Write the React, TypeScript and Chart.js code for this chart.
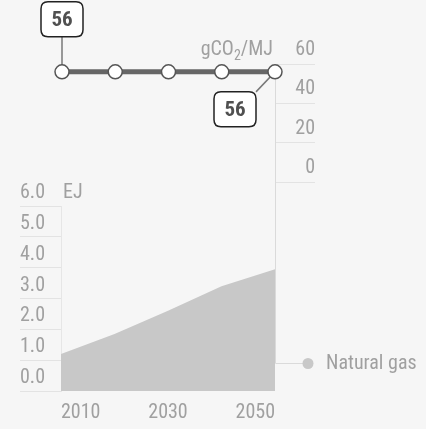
import React, { useEffect, useRef } from "react";
import { Chart, registerables } from "chart.js";

Chart.register(...registerables);

const years = ["2010", "2020", "2030", "2040", "2050"];
const shownYears = ["2010", "2030", "2050"];
const co2Intensity = [56, 56, 56, 56, 56];
const naturalGas = [1.2, 1.85, 2.6, 3.4, 3.95];
const co2Unit = ["gCO", "2", "/MJ"];
const energyUnit = "EJ";
const seriesName = "Natural gas";

const FONT = "'Liberation Sans Narrow', 'Roboto Condensed', Roboto, sans-serif";
const TEXT = "#a0a0a0";
const GRID = "#e3e3e3";
const AXIS = "#dadada";
const AREA = "#c8c8c8";

function roundRect(ctx: CanvasRenderingContext2D, x: number, y: number, w: number, h: number, r: number) {
  ctx.beginPath();
  ctx.moveTo(x + r, y);
  ctx.lineTo(x + w - r, y);
  ctx.quadraticCurveTo(x + w, y, x + w, y + r);
  ctx.lineTo(x + w, y + h - r);
  ctx.quadraticCurveTo(x + w, y + h, x + w - r, y + h);
  ctx.lineTo(x + r, y + h);
  ctx.quadraticCurveTo(x, y + h, x, y + h - r);
  ctx.lineTo(x, y + r);
  ctx.quadraticCurveTo(x, y, x + r, y);
  ctx.closePath();
}

export default function App() {
  const topRef = useRef<HTMLCanvasElement>(null);
  const botRef = useRef<HTMLCanvasElement>(null);

  useEffect(() => {
    document.body.style.margin = "0";
    document.body.style.background = "#f6f6f6";

    const BW = 42, BH = 35;
    const topPlugin = {
      id: "topDecor",
      beforeDatasetsDraw(chart: any) {
        const meta = chart.getDatasetMeta(0);
        const p0 = meta.data[0];
        const pn = meta.data[meta.data.length - 1];
        const ctx = chart.ctx;
        ctx.save();
        ctx.strokeStyle = "#7a7a7a";
        ctx.lineWidth = 1.5;
        ctx.beginPath();
        ctx.moveTo(p0.x, p0.y - 35);
        ctx.lineTo(p0.x, p0.y);
        ctx.moveTo(pn.x - 19, pn.y + 20);
        ctx.lineTo(pn.x, pn.y);
        ctx.stroke();
        ctx.restore();
      },
      afterDatasetsDraw(chart: any) {
        const ctx = chart.ctx;
        const meta = chart.getDatasetMeta(0);
        const p0 = meta.data[0];
        const pn = meta.data[meta.data.length - 1];
        const ds = chart.data.datasets[0].data;
        const boxes = [
          { x: p0.x - BW / 2, y: p0.y - 35 - BH, v: ds[0] },
          { x: pn.x - 19 - BW, y: pn.y + 20, v: ds[ds.length - 1] },
        ];
        ctx.save();
        for (const b of boxes) {
          roundRect(ctx, b.x, b.y, BW, BH, 7);
          ctx.fillStyle = "#ffffff";
          ctx.fill();
          ctx.strokeStyle = "#222222";
          ctx.lineWidth = 1.5;
          ctx.stroke();
          ctx.fillStyle = "#505050";
          ctx.font = `bold 21px ${FONT}`;
          ctx.textAlign = "center";
          ctx.textBaseline = "middle";
          ctx.fillText(String(b.v), b.x + BW / 2, b.y + BH / 2 + 1);
        }
        const area = chart.chartArea;
        const yc = area.top - 14;
        ctx.fillStyle = TEXT;
        ctx.textBaseline = "middle";
        ctx.textAlign = "left";
        ctx.font = `20px ${FONT}`;
        const w1 = ctx.measureText(co2Unit[0]).width;
        const w3 = ctx.measureText(co2Unit[2]).width;
        ctx.font = `14px ${FONT}`;
        const w2 = ctx.measureText(co2Unit[1]).width;
        let x = area.right - 2 - (w1 + w2 + w3);
        ctx.font = `20px ${FONT}`;
        ctx.fillText(co2Unit[0], x, yc);
        x += w1;
        ctx.font = `14px ${FONT}`;
        ctx.fillText(co2Unit[1], x, yc + 6);
        x += w2;
        ctx.font = `20px ${FONT}`;
        ctx.fillText(co2Unit[2], x, yc);
        ctx.restore();
      },
    };

    const top = new Chart(topRef.current!, {
      type: "line",
      data: {
        labels: years,
        datasets: [
          {
            data: co2Intensity,
            borderColor: "#666666",
            borderWidth: 5,
            pointRadius: 7,
            pointBackgroundColor: "#ffffff",
            pointBorderColor: "#555555",
            pointBorderWidth: 1.5,
            clip: false as any,
          },
        ],
      },
      options: {
        animation: false,
        responsive: false,
        events: [],
        layout: { padding: { left: 62, right: 111, top: 64, bottom: 247 } },
        plugins: { legend: { display: false }, tooltip: { enabled: false } },
        scales: {
          x: { type: "category", display: false, offset: false },
          y: {
            position: "right",
            min: 0,
            max: 60,
            afterFit: (s: any) => { s.width = 40; },
            ticks: {
              stepSize: 20,
              crossAlign: "far",
              labelOffset: -14,
              color: TEXT,
              font: { family: FONT, size: 20 },
            },
            grid: { drawOnChartArea: false, drawTicks: true, tickLength: 40, color: GRID },
            border: { display: true, color: AXIS },
          },
        },
      },
      plugins: [topPlugin],
    });

    const botPlugin = {
      id: "botDecor",
      beforeDatasetsDraw(chart: any) {
        const ctx = chart.ctx;
        const a = chart.chartArea;
        const ly = a.bottom - 28;
        ctx.save();
        ctx.strokeStyle = AXIS;
        ctx.lineWidth = 1;
        ctx.beginPath();
        ctx.moveTo(a.right + 0.5, a.top - 24);
        ctx.lineTo(a.right + 0.5, ly + 0.5);
        ctx.lineTo(a.right + 33, ly + 0.5);
        ctx.stroke();
        ctx.restore();
      },
      afterDraw(chart: any) {
        const ctx = chart.ctx;
        const a = chart.chartArea;
        const ly = a.bottom - 28;
        ctx.save();
        ctx.fillStyle = AREA;
        ctx.beginPath();
        ctx.arc(a.right + 33, ly + 0.5, 5.5, 0, Math.PI * 2);
        ctx.fill();
        ctx.fillStyle = TEXT;
        ctx.font = `20px ${FONT}`;
        ctx.textAlign = "left";
        ctx.textBaseline = "middle";
        ctx.fillText(seriesName, a.right + 51, ly + 1);
        ctx.fillText(energyUnit, a.left + 2, a.top - 13);
        ctx.restore();
      },
    };

    const bot = new Chart(botRef.current!, {
      type: "line",
      data: {
        labels: years,
        datasets: [
          {
            data: naturalGas,
            fill: "origin",
            backgroundColor: AREA,
            borderWidth: 0,
            pointRadius: 0,
            tension: 0,
          },
        ],
      },
      options: {
        animation: false,
        responsive: false,
        events: [],
        layout: { padding: { left: 20, right: 151, top: 206, bottom: 8 } },
        plugins: { legend: { display: false }, tooltip: { enabled: false } },
        scales: {
          x: {
            type: "category",
            offset: false,
            afterFit: (s: any) => { s.height = 30; },
            ticks: {
              autoSkip: false,
              maxRotation: 0,
              align: "inner",
              padding: 10,
              color: TEXT,
              font: { family: FONT, size: 20 },
              callback: (_v: any, i: number) => (shownYears.includes(years[i]) ? years[i] : ""),
            },
            grid: { display: false, drawTicks: false },
            border: { display: false },
          },
          y: {
            position: "left",
            min: 0,
            max: 6,
            afterFit: (s: any) => { s.width = 41; },
            ticks: {
              stepSize: 1,
              crossAlign: "far",
              labelOffset: -13,
              color: TEXT,
              font: { family: FONT, size: 20 },
              callback: (v: any) => Number(v).toFixed(1),
            },
            grid: { drawOnChartArea: false, drawTicks: true, tickLength: 41, color: GRID },
            border: { display: true, color: "#e6e6e6" },
          },
        },
      },
      plugins: [botPlugin],
    });

    return () => {
      top.destroy();
      bot.destroy();
    };
  }, []);

  return (
    <div style={{ position: "relative", width: 426, height: 429, background: "#f6f6f6" }}>
      <canvas ref={botRef} width={426} height={429} style={{ position: "absolute", left: 0, top: 0 }} />
      <canvas ref={topRef} width={426} height={429} style={{ position: "absolute", left: 0, top: 0 }} />
    </div>
  );
}
